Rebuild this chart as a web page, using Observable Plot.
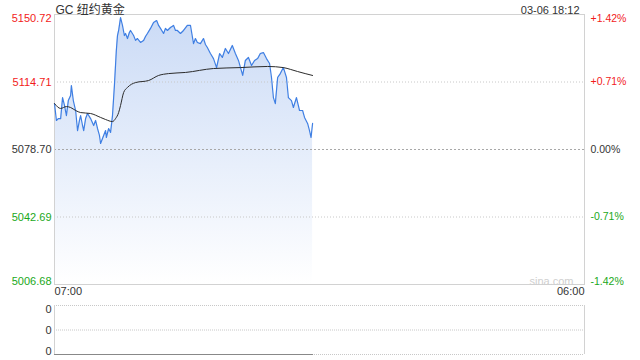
<!DOCTYPE html>
<html><head><meta charset="utf-8">
<script src="https://cdn.jsdelivr.net/npm/d3@7"></script>
<script src="https://cdn.jsdelivr.net/npm/@observablehq/plot@0.6"></script>
<style>
body{margin:0;background:#fff;}
#wrap{position:relative;width:640px;height:360px;overflow:hidden;font-family:"Liberation Sans",Arial,sans-serif;}
#main{position:absolute;left:0;top:0;}
#vol{position:absolute;left:0;top:300px;}
</style></head><body><div id="wrap"><div id="main"></div><div id="vol"></div></div>
<script>
const title = "GC 纽约黄金";
const stamp = "03-06 18:12";
const watermark = "sina.com";
const sessionStart = "07:00";
const sessionEnd = "06:00";

const times = ["07:00","07:05","07:10","07:16","07:21","07:26","07:31","07:36","07:42","07:44","07:49","07:55","08:00","08:05","08:08","08:13","08:16","08:21","08:26","08:34","08:42","08:47","08:52","08:57","09:00","09:05","09:08","09:13","09:15","09:21","09:26","09:31","09:36","09:41","09:44","09:47","09:52","09:57","10:02","10:05","10:10","10:15","10:18","10:26","10:31","10:36","10:44","10:52","10:57","11:02","11:10","11:18","11:26","11:31","11:36","11:44","11:49","11:54","12:02","12:10","12:15","12:20","12:28","12:36","12:46","12:54","13:02","13:07","13:12","13:20","13:28","13:33","13:38","13:46","13:54","14:02","14:10","14:17","14:25","14:33","14:43","14:51","14:59","15:10","15:17","15:25","15:33","15:41","15:49","15:56","16:04","16:12","16:20","16:25","16:30","16:35","16:41","16:48","16:56","17:04","17:09","17:17","17:22","17:30","17:38","17:46","17:51","17:59","18:04","18:08","18:12"];
const prices = [5103.2,5094.2,5095.2,5095.2,5106.4,5102.2,5096.8,5104.8,5107.5,5112.8,5104.8,5099.5,5088.8,5094.2,5096.8,5091.5,5088.8,5095.2,5097.9,5095.2,5091.5,5094.2,5089.9,5086.2,5081.9,5084.6,5086.2,5088.8,5085.1,5089.9,5087.8,5096.8,5112.8,5131.5,5139.5,5142.2,5149.1,5144.9,5139.5,5140.6,5137.9,5141.1,5142.2,5139.5,5136.9,5137.9,5135.8,5136.9,5139.0,5140.6,5143.3,5146.5,5147.5,5144.9,5143.3,5140.6,5143.3,5142.2,5143.8,5144.9,5142.2,5142.2,5140.6,5142.2,5144.9,5144.9,5135.2,5137.9,5135.8,5135.2,5137.9,5134.7,5133.1,5129.9,5127.2,5122.4,5129.9,5127.8,5132.6,5129.9,5134.2,5129.9,5126.2,5118.2,5126.2,5127.8,5123.5,5126.2,5127.2,5129.9,5130.4,5127.2,5124.6,5117.1,5106.4,5103.2,5117.1,5119.2,5122.4,5117.1,5106.4,5104.8,5101.1,5106.4,5099.5,5099.5,5095.8,5092.6,5088.8,5085.1,5092.6];

const avgTimes = ["07:00","07:16","07:31","07:42","07:55","08:08","08:34","09:00","09:13","09:31","09:39","09:47","09:52","10:00","10:10","10:31","11:05","11:31","11:57","12:41","13:54","15:04","16:15","16:56","17:15","17:33","18:12"];
const avgPrices = [5103.2,5100.6,5101.6,5101.1,5099.5,5098.4,5097.9,5095.8,5094.7,5093.6,5095.2,5098.4,5102.2,5109.1,5111.8,5114.4,5115.5,5118.2,5119.2,5119.8,5121.9,5122.4,5123.0,5122.4,5121.4,5120.3,5118.2];

const priceTicks = [5150.72, 5114.71, 5078.70, 5042.69, 5006.68];
const pctTicks = ["+1.42%", "+0.71%", "0.00%", "-0.71%", "-1.42%"];

const volTimes = ["07:00", "18:12"];
const volumes = [0, 0];
const volTicks = [1, 0.5, 0];
const volLabels = ["0", "0", "0"];

const parse = (hm, d = 6) => new Date(2026, 2, d, +hm.slice(0, 2), +hm.slice(3, 5));
const xDomain = [parse(sessionStart), parse(sessionEnd, 7)];
const data = times.map((t, i) => ({t: parse(t), p: prices[i]}));
const avg = avgTimes.map((t, i) => ({t: parse(t), p: avgPrices[i]}));
const yMax = priceTicks[0], yMin = priceTicks[priceTicks.length - 1], prevClose = priceTicks[2];
const tickColor = v => v > prevClose + 1e-9 ? "#f21b1b" : v < prevClose - 1e-9 ? "#1aa81a" : "#333";
const n = priceTicks.length;
const FONT = "'Liberation Sans', Arial, sans-serif";
const CJK = "'Liberation Sans', 'Noto Sans CJK SC', sans-serif";

function tickLabels(values, texts, side, fsize) {
  const anchors = [["top", (d, i) => i === 0], ["middle", (d, i) => i > 0 && i < values.length - 1], ["bottom", (d, i) => i === values.length - 1]];
  return anchors.map(([la, f]) => Plot.text(values.map((v, i) => ({v, i, s: texts[i]})), {
    filter: d => f(d, d.i),
    y: "v", text: "s",
    frameAnchor: side, textAnchor: side === "left" ? "end" : "start",
    dx: side === "left" ? -3 : 6, lineAnchor: la,
    fill: d => tickColor(priceTicks[d.i] ?? 0), fontSize: fsize, fontFamily: FONT
  }));
}

const gradient = () => {
  const defs = d3.create("svg:defs");
  const g = defs.append("linearGradient").attr("id", "areaGrad").attr("x1", 0).attr("x2", 0).attr("y1", 0).attr("y2", 1);
  g.append("stop").attr("offset", "0%").attr("stop-color", "#cbdbf6");
  g.append("stop").attr("offset", "100%").attr("stop-color", "#ffffff");
  return defs.node();
};

const main = Plot.plot({
  width: 640, height: 300,
  marginTop: 14, marginBottom: 16, marginLeft: 54, marginRight: 56,
  x: {type: "time", domain: xDomain, axis: null},
  y: {domain: [yMin, yMax], axis: null},
  style: {fontFamily: FONT, background: "#fff", overflow: "visible"},
  marks: [
    gradient,
    Plot.areaY(data, {x: "t", y1: yMin, y2: "p", fill: "url(#areaGrad)"}),
    Plot.ruleY([priceTicks[1], priceTicks[3]], {stroke: "#c8c8c8", strokeDasharray: "1,2"}),
    Plot.ruleY([prevClose], {stroke: "#a8a8a8", strokeDasharray: "2,2"}),
    Plot.frame({stroke: "#d2d2d2"}),
    Plot.lineY(data, {x: "t", y: "p", stroke: "#3f7fe3", strokeWidth: 1.2}),
    Plot.lineY(avg, {x: "t", y: "p", stroke: "#2b2b2b", strokeWidth: 1, curve: "monotone-x"}),
    ...tickLabels(priceTicks, priceTicks.map(v => v.toFixed(2)), "left", 11),
    ...tickLabels(priceTicks, pctTicks, "right", 10.5),
    Plot.text([xDomain[0]], {x: d => d, text: [sessionStart], frameAnchor: "bottom", textAnchor: "start", lineAnchor: "top", dy: 3, fontSize: 11, fill: "#333"}),
    Plot.text([xDomain[1]], {x: d => d, text: [sessionEnd], frameAnchor: "bottom", textAnchor: "end", lineAnchor: "top", dy: 3, fontSize: 11, fill: "#333"}),
    Plot.text([title], {frameAnchor: "top-left", textAnchor: "start", lineAnchor: "bottom", dx: 1, dy: -1, fontSize: 12, fill: "#333", fontFamily: CJK}),
    Plot.text([stamp], {frameAnchor: "top-right", textAnchor: "end", lineAnchor: "bottom", dx: -5, dy: -1, fontSize: 11, fill: "#333"}),
    Plot.text([watermark], {frameAnchor: "bottom-right", textAnchor: "end", lineAnchor: "bottom", dx: -11, dy: 0, fontSize: 11, fill: "#cfcfcf"})
  ]
});
document.getElementById("main").appendChild(main);

const vdata = volTimes.map((t, i) => ({t: parse(t), v: volumes[i]}));
const vol = Plot.plot({
  width: 640, height: 60,
  marginTop: 5, marginBottom: 6, marginLeft: 54, marginRight: 56,
  x: {type: "time", domain: xDomain, axis: null},
  y: {domain: [0, 1], axis: null},
  style: {fontFamily: FONT, background: "#fff", overflow: "visible"},
  marks: [
    Plot.ruleY(volTicks, {stroke: "#c8c8c8", strokeDasharray: "1,1"}),
    Plot.ruleX(xDomain, {stroke: "#d2d2d2"}),
    Plot.lineY(vdata, {x: "t", y: "v", stroke: "#888", strokeWidth: 1.2}),
    ...["top", "middle", "bottom"].map((la, k) => Plot.text([k], {
      y: d => volTicks[d], text: d => volLabels[d], frameAnchor: "left", textAnchor: "end",
      dx: -3, lineAnchor: la, fontSize: 11, fill: "#333"
    }))
  ]
});
document.getElementById("vol").appendChild(vol);
</script></body></html>
